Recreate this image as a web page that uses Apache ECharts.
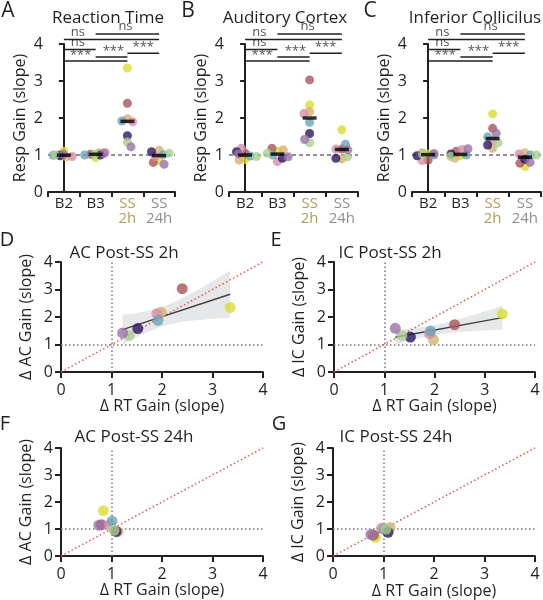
<!DOCTYPE html>
<html><head><meta charset="utf-8">
<script src="https://cdn.jsdelivr.net/npm/echarts@6/dist/echarts.min.js"></script>
<style>html,body{margin:0;padding:0;background:#fff}#c{width:543px;height:600px}</style>
</head><body><div id="c"></div>
<script>
// ---------------- data ----------------
const categories = ['B2', 'B3', 'SS 2h', 'SS 24h'];
// animal order: lime, brick, tan, pink, teal, navy, light green, purple
const animalColors = ['#d7df2f', '#a9545b', '#d6b26f', '#d98fa8', '#6ea3b9', '#2c1762', '#a9d08c', '#9a72a7'];

const rtB2    = [1.10, 1.00, 0.95, 0.96, 0.99, 0.98, 1.00, 1.02];
const rtB3    = [0.93, 1.02, 1.06, 1.07, 1.00, 1.00, 1.02, 1.04];
const rtSS2h  = [3.35, 2.40, 1.98, 1.90, 1.92, 1.52, 1.35, 1.22];
const rtSS24h = [0.84, 0.80, 1.13, 0.96, 1.01, 1.09, 1.05, 0.75];

const acB2    = [0.88, 1.05, 0.86, 1.18, 0.97, 1.09, 0.96, 1.03];
const acB3    = [1.11, 1.18, 1.14, 0.82, 1.00, 0.91, 1.05, 0.95];
const acSS2h  = [2.35, 3.03, 2.17, 2.12, 1.88, 1.58, 1.33, 1.42];
const acSS24h = [1.68, 1.16, 0.90, 1.16, 1.29, 0.91, 0.95, 1.14];

const icB2    = [1.03, 0.86, 1.06, 0.85, 1.00, 0.98, 1.02, 1.04];
const icB3    = [0.98, 1.10, 0.91, 1.15, 1.00, 1.03, 0.96, 1.17];
const icSS2h  = [2.11, 1.72, 1.18, 1.40, 1.49, 1.27, 1.33, 1.59];
const icSS24h = [0.69, 0.78, 1.06, 1.03, 1.00, 0.88, 1.00, 0.80];

const yTicks = [0, 1, 2, 3, 4];
const comparisons = [
  { from: 1, to: 3, text: 'ns' },
  { from: 0, to: 3, text: 'ns' },
  { from: 0, to: 1, text: 'ns' },
  { from: 2, to: 3, text: '***' },
  { from: 1, to: 2, text: '***' },
  { from: 0, to: 2, text: '***' }
];
const topTitles = ['Reaction Time', 'Auditory Cortex', 'Inferior Collicilus'];
const bottomTitles = ['AC Post-SS 2h', 'IC Post-SS 2h', 'AC Post-SS 24h', 'IC Post-SS 24h'];
const panelLetters = ['A', 'B', 'C', 'D', 'E', 'F', 'G'];

// ---------------- layout / style ----------------
const ink = '#231f20';
const FONT = 'Open Sans';
const topGroups = [
  [rtB2, rtB3, rtSS2h, rtSS24h],
  [acB2, acB3, acSS2h, acSS24h],
  [icB2, icB3, icSS2h, icSS24h]
];
const bottomPairs = [
  [rtSS2h, acSS2h, 'Δ AC Gain (slope)', 'band'],
  [rtSS2h, icSS2h, 'Δ IC Gain (slope)', 'band'],
  [rtSS24h, acSS24h, 'Δ AC Gain (slope)', null],
  [rtSS24h, icSS24h, 'Δ IC Gain (slope)', 'line']
];
const grids = [
  { left: 48, top: 44, width: 127, height: 148 },
  { left: 229, top: 44, width: 129, height: 148 },
  { left: 412, top: 44, width: 129, height: 148 },
  { left: 61, top: 262, width: 202, height: 110 },
  { left: 334, top: 262, width: 201, height: 110 },
  { left: 61, top: 448, width: 202, height: 108 },
  { left: 333, top: 448, width: 202, height: 109 }
];
// bracket heights (value units) and label anchor positions
const bracketLevels = [4.27, 4.12, 3.85, 3.75, 3.65, 3.54];
const labelAnchors = [[1.94, 4.47], [0.44, 4.32], [0.44, 4.05], [2.5, 3.9], [1.56, 3.8], [0.53, 3.69]];

function median(arr) {
  const s = arr.slice().sort((a, b) => a - b);
  const n = s.length;
  return n % 2 ? s[(n - 1) / 2] : (s[n / 2 - 1] + s[n / 2]) / 2;
}
function regress(xs, ys) {
  const n = xs.length;
  const mx = xs.reduce((a, b) => a + b, 0) / n;
  const my = ys.reduce((a, b) => a + b, 0) / n;
  let sxx = 0, sxy = 0;
  for (let i = 0; i < n; i++) { sxx += (xs[i] - mx) ** 2; sxy += (xs[i] - mx) * (ys[i] - my); }
  const b = sxy / sxx, a = my - b * mx;
  let sse = 0;
  for (let i = 0; i < n; i++) sse += (ys[i] - a - b * xs[i]) ** 2;
  const s = Math.sqrt(sse / (n - 2));
  const t = 2.447; // t(0.975, df=6)
  const x0 = Math.min(...xs), x1 = Math.max(...xs);
  const pts = [];
  const steps = 30;
  for (let k = 0; k <= steps; k++) {
    const x = x0 + (x1 - x0) * k / steps;
    const yh = a + b * x;
    const se = s * Math.sqrt(1 / n + (x - mx) ** 2 / sxx);
    pts.push([x, yh - t * se, yh + t * se]);
  }
  return { line: [[x0, a + b * x0], [x1, a + b * x1]], pts };
}

const catStyles = ['base', 'base', 'ss2', 'ss24'];
const xAxes = [], yAxes = [], series = [];

// top panels
for (let p = 0; p < 3; p++) {
  xAxes.push({
    type: 'category', gridIndex: p, data: categories, boundaryGap: true,
    jitter: 30, jitterOverlap: false, jitterMargin: -3,
    axisLine: { lineStyle: { color: ink, width: 2 } },
    axisTick: { show: true, length: 5, interval: 0, alignWithLabel: false, lineStyle: { color: ink, width: 2 } },
    axisLabel: {
      interval: 0, margin: 4, color: ink, fontSize: 15, fontFamily: FONT, lineHeight: 15,
      formatter: (v, i) => v.split(' ').map(w => '{' + catStyles[i] + '|' + w + '}').join('\n'),
      rich: {
        base: { color: ink, fontSize: 15, fontFamily: FONT, lineHeight: 15 },
        ss2: { color: '#b19d55', fontSize: 15, fontFamily: FONT, lineHeight: 15 },
        ss24: { color: '#8e8e8e', fontSize: 15, fontFamily: FONT, lineHeight: 15 }
      }
    },
    splitLine: { show: false }
  });
  yAxes.push({
    type: 'value', gridIndex: p, min: 0, max: 4, interval: 1,
    axisLine: { show: true, lineStyle: { color: ink, width: 2 } },
    axisTick: { show: true, length: 5, lineStyle: { color: ink, width: 2 } },
    axisLabel: { color: ink, fontSize: 16, fontFamily: FONT, margin: 5, formatter: v => yTicks.includes(v) ? String(v) : '' },
    splitLine: { show: false },
    name: 'Resp Gain (slope)', nameLocation: 'middle', nameGap: 20,
    nameTextStyle: { color: ink, fontSize: 16, fontFamily: FONT }
  });
}
// bottom panels
for (let q = 0; q < 4; q++) {
  const g = 3 + q;
  xAxes.push({
    type: 'value', gridIndex: g, min: 0, max: 4, interval: 1,
    axisLine: { show: true, onZero: false, lineStyle: { color: ink, width: 2 } },
    axisTick: { show: true, length: 6, lineStyle: { color: ink, width: 2 } },
    axisLabel: { color: ink, fontSize: 16, fontFamily: FONT, margin: 10 },
    splitLine: { show: false },
    name: 'Δ RT Gain (slope)', nameLocation: 'middle', nameGap: 26,
    nameTextStyle: { color: ink, fontSize: 16, fontFamily: FONT }
  });
  yAxes.push({
    type: 'value', gridIndex: g, min: 0, max: 4, interval: 1,
    axisLine: { show: true, onZero: false, lineStyle: { color: ink, width: 2 } },
    axisTick: { show: true, length: 6, lineStyle: { color: ink, width: 2 } },
    axisLabel: { color: ink, fontSize: 16, fontFamily: FONT, margin: 8 },
    splitLine: { show: false },
    name: bottomPairs[q][2], nameLocation: 'middle', nameGap: 27,
    nameTextStyle: { color: ink, fontSize: 16, fontFamily: FONT }
  });
}
// hidden value x axes for top-panel annotations and medians
for (let p = 0; p < 3; p++) {
  xAxes.push({ type: 'value', gridIndex: p, min: -0.5, max: 3.5, show: false });
}

// top series
for (let p = 0; p < 3; p++) {
  const groups = topGroups[p];
  const hx = 7 + p;
  series.push({
    type: 'scatter', xAxisIndex: hx, yAxisIndex: p, data: [], silent: true, z: 1,
    markLine: {
      silent: true, symbol: 'none', z: 1, label: { show: false },
      lineStyle: { color: '#6d6e71', width: 1.5, type: [4, 3] },
      data: [{ yAxis: 1 }]
    }
  });
  const pts = [];
  groups.forEach((vals, c) => vals.forEach((v, a) => pts.push({ value: [c, v], itemStyle: { color: animalColors[a] } })));
  series.push({
    type: 'scatter', xAxisIndex: p, yAxisIndex: p, symbolSize: 9, z: 3, silent: true,
    data: pts
  });
  series.push({
    type: 'scatter', xAxisIndex: hx, yAxisIndex: p, symbol: 'rect', symbolSize: [14, 3.5], z: 4, silent: true,
    itemStyle: { color: '#000' },
    data: groups.map((vals, c) => [c, median(vals)])
  });
  comparisons.forEach((cmp, k) => {
    series.push({
      type: 'line', xAxisIndex: hx, yAxisIndex: p, clip: false, symbol: 'none', silent: true, z: 5,
      lineStyle: { color: ink, width: 1.5 },
      data: [[cmp.from, bracketLevels[k]], [cmp.to, bracketLevels[k]]]
    });
  });
  series.push({
    type: 'scatter', xAxisIndex: hx, yAxisIndex: p, clip: false, symbolSize: 2, silent: true, z: 6,
    itemStyle: { color: 'rgba(0,0,0,0)' },
    label: { show: true, position: 'inside', formatter: '{b}', color: '#231f20', fontSize: 13, fontFamily: FONT },
    data: comparisons.map((cmp, k) => ({ name: cmp.text, value: labelAnchors[k] }))
  });
}

// bottom series
for (let q = 0; q < 4; q++) {
  const g = 3 + q;
  const [xs, ys, , fit] = bottomPairs[q];
  series.push({
    type: 'scatter', xAxisIndex: g, yAxisIndex: g, data: [], silent: true, z: 2,
    markLine: {
      silent: true, symbol: 'none', z: 2, label: { show: false },
      data: [
        { xAxis: 1, lineStyle: { color: '#77787b', width: 1.5, type: [1.5, 2.5] } },
        { yAxis: 1, lineStyle: { color: '#77787b', width: 1.5, type: [1.5, 2.5] } },
        [{ coord: [0, 0], lineStyle: { color: '#e8534f', width: 1.5, type: [1.5, 2.5] } }, { coord: [4, 4] }]
      ]
    }
  });
  if (fit) {
    const r = regress(xs, ys);
    if (fit === 'band') {
      const bandPts = r.pts;
      series.push({
        type: 'custom', xAxisIndex: g, yAxisIndex: g, silent: true, z: 1,
        data: bandPts,
        renderItem: (params, api) => {
          if (params.dataIndex !== 0) return null;
          const upper = bandPts.map(d => api.coord([d[0], d[2]]));
          const lower = bandPts.map(d => api.coord([d[0], d[1]])).reverse();
          return { type: 'polygon', shape: { points: upper.concat(lower) }, style: { fill: '#e6e7e8' } };
        }
      });
    }
    series.push({
      type: 'line', xAxisIndex: g, yAxisIndex: g, symbol: 'none', silent: true, z: 3,
      lineStyle: { color: '#404041', width: 1.5 }, data: r.line
    });
  }
  series.push({
    type: 'scatter', xAxisIndex: g, yAxisIndex: g, symbolSize: 11, silent: true, z: 4,
    data: xs.map((x, a) => ({ value: [x, ys[a]], itemStyle: { color: animalColors[a] } }))
  });
}

// text graphics
const texts = [
  { t: topTitles[0], x: 108, y: 18, s: 17 },
  { t: topTitles[1], x: 285, y: 18, s: 17 },
  { t: topTitles[2], x: 475, y: 18, s: 17 },
  { t: bottomTitles[0], x: 124, y: 253, s: 17 },
  { t: bottomTitles[1], x: 390, y: 253, s: 17 },
  { t: bottomTitles[2], x: 134, y: 437, s: 17 },
  { t: bottomTitles[3], x: 396, y: 437, s: 17 },
  { t: panelLetters[0], x: 8, y: 11, s: 21 },
  { t: panelLetters[1], x: 188, y: 11, s: 21 },
  { t: panelLetters[2], x: 370, y: 11, s: 21 },
  { t: panelLetters[3], x: 7, y: 240, s: 20 },
  { t: panelLetters[4], x: 276, y: 240, s: 20 },
  { t: panelLetters[5], x: 5, y: 424, s: 20 },
  { t: panelLetters[6], x: 279, y: 424, s: 20 }
];

const chart = echarts.init(document.getElementById('c'), null, { renderer: 'canvas' });
chart.setOption({
  animation: false,
  backgroundColor: '#fff',
  textStyle: { fontFamily: FONT },
  grid: grids,
  xAxis: xAxes,
  yAxis: yAxes,
  series,
  graphic: texts.map(d => ({
    type: 'text', x: d.x, y: d.y, silent: true,
    style: { text: d.t, fill: ink, font: d.s + 'px "' + FONT + '"', align: 'center', verticalAlign: 'middle', textAlign: 'center', textVerticalAlign: 'middle' }
  }))
});
</script></body></html>
